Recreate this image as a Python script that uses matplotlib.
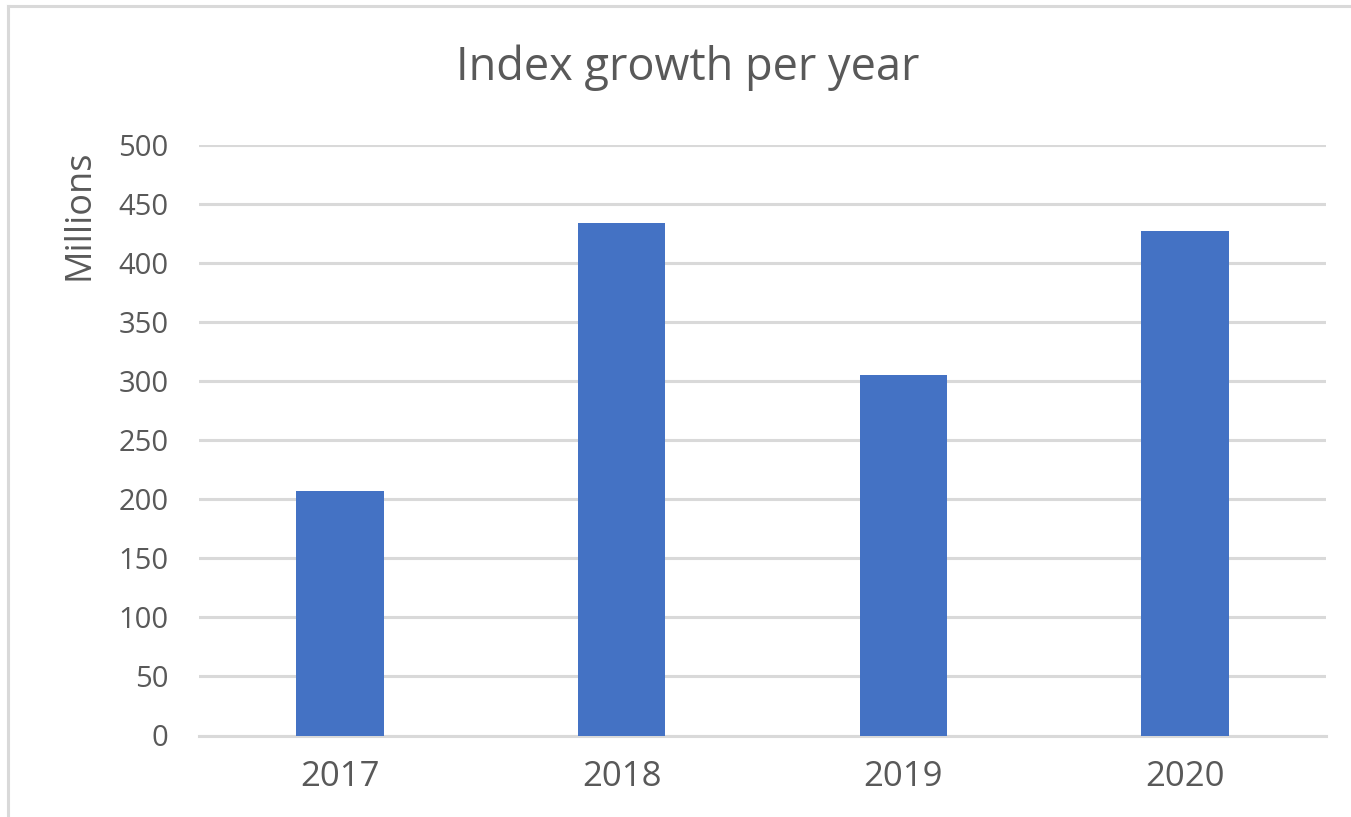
import matplotlib.pyplot as plt
from matplotlib.lines import Line2D

years = ['2017', '2018', '2019', '2020']
growth = [207, 434, 305, 427]
yticks = [0, 50, 100, 150, 200, 250, 300, 350, 400, 450, 500]

W, H = 1351, 817
fig = plt.figure(figsize=(W / 100, H / 100), dpi=100)
fig.set_facecolor('white')

ax = fig.add_axes([199 / W, 1 - 735.5 / H, (1326 - 199) / W, (735.5 - 145) / H])

grey = '#595959'
grid = '#d9d9d9'

ax.bar(range(len(years)), growth, width=0.31, color='#4472c4', zorder=3)
ax.set_xlim(-0.5, len(years) - 0.5)
ax.set_ylim(0, 500)
ax.set_yticks(yticks)
ax.set_xticks(range(len(years)))
ax.set_xticklabels(years)

for s in ['top', 'right', 'left']:
    ax.spines[s].set_visible(False)
ax.spines['bottom'].set_color(grid)
ax.spines['bottom'].set_linewidth(2.2)
ax.spines['bottom'].set_zorder(2)

ax.yaxis.grid(True, color=grid, linewidth=2.2, zorder=0)
ax.set_axisbelow(True)
ax.tick_params(axis='both', length=0, colors=grey)
ax.tick_params(axis='y', pad=22, labelsize=21)
ax.tick_params(axis='x', pad=18, labelsize=25)
for lab in ax.get_xticklabels() + ax.get_yticklabels():
    lab.set_fontfamily('Open Sans')

fig.text(688 / W, 1 - 68 / H, 'Index growth per year', ha='center', va='center',
         fontsize=32.5, color=grey, family='Open Sans')
fig.text(80 / W, 1 - 215 / H, 'Millions', ha='center', va='center', rotation=90,
         fontsize=26, color=grey, family='Open Sans')

# chart area border (only top and left fall inside the picture)
fig.add_artist(Line2D([8 / W, 1], [1 - 6 / H, 1 - 6 / H], transform=fig.transFigure,
                      color=grid, linewidth=2.2))
fig.add_artist(Line2D([8 / W, 8 / W], [0, 1 - 6 / H], transform=fig.transFigure,
                      color=grid, linewidth=2.2))

plt.savefig('out.png', dpi=100)
